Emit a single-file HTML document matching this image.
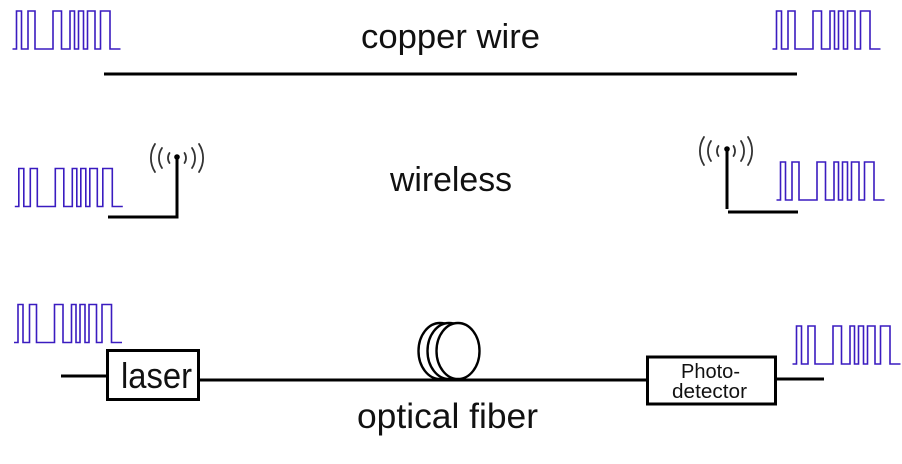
<!DOCTYPE html>
<html><head><meta charset="utf-8"><style>
html,body{margin:0;padding:0;background:#fff;width:902px;height:464px;overflow:hidden}
svg{display:block}
text{font-family:"Liberation Sans",sans-serif;fill:#111}
.w{fill:none;stroke:#3a1cc0;stroke-width:1.6}
.k{fill:none;stroke:#000;stroke-width:3}
.a{fill:none;stroke:#333;stroke-width:1.8;stroke-linecap:round}
</style></head><body>
<svg width="902" height="464" viewBox="0 0 902 464" xmlns="http://www.w3.org/2000/svg">
<defs>
<path id="wave" class="w" d="M12.5 49H16.5V11H21.5V49H28V11H35V49H53V11H61.5V49H70V11H74.5V49H78.5V11H83.5V49H87.5V11H95V49H100.5V11H110V49H120.5"/>
<g id="arcs">
<path class="a" d="M-22 -14A26 26 0 0 0 -22 14"/>
<path class="a" d="M-15 -10A18 18 0 0 0 -15 10"/>
<path class="a" d="M-7.5 -5A9 9 0 0 0 -7.5 5"/>
<path class="a" d="M22 -14A26 26 0 0 1 22 14"/>
<path class="a" d="M15 -10A18 18 0 0 1 15 10"/>
<path class="a" d="M7.5 -5A9 9 0 0 1 7.5 5"/>
</g>
</defs>
<use href="#wave"/>
<use href="#wave" x="760"/>
<use href="#wave" x="2.3" y="157.5"/>
<use href="#wave" x="764" y="151"/>
<use href="#wave" x="1.5" y="293.5"/>
<use href="#wave" x="780" y="315"/>

<line class="k" x1="104" y1="74" x2="797" y2="74"/>
<text x="361" y="48" font-size="34" textLength="179" lengthAdjust="spacingAndGlyphs">copper wire</text>

<path class="k" d="M108 217H177V157"/>
<circle cx="177" cy="157" r="2.8" fill="#000"/>
<use href="#arcs" x="177" y="158"/>
<path class="k" d="M727 149V209M728 212H798"/>
<circle cx="727" cy="149" r="2.8" fill="#000"/>
<use href="#arcs" x="726" y="151"/>
<text x="390" y="191" font-size="34" textLength="122" lengthAdjust="spacingAndGlyphs">wireless</text>

<line class="k" x1="61" y1="376" x2="107" y2="376"/>
<line class="k" x1="199" y1="380" x2="647" y2="380"/>
<line class="k" x1="777" y1="379" x2="824" y2="379"/>
<rect class="k" x="107.5" y="350.5" width="91" height="49"/>
<rect class="k" x="647.5" y="357" width="128" height="47"/>
<ellipse cx="440" cy="351" rx="21.5" ry="28" fill="#fff" stroke="#000" stroke-width="2.4"/>
<ellipse cx="449" cy="351" rx="21.5" ry="28" fill="#fff" stroke="#000" stroke-width="2.4"/>
<ellipse cx="458" cy="351" rx="21.5" ry="28" fill="#fff" stroke="#000" stroke-width="2.4"/>
<text x="121" y="388" font-size="36" textLength="71" lengthAdjust="spacingAndGlyphs">laser</text>
<text x="681" y="378" font-size="20" textLength="59" lengthAdjust="spacingAndGlyphs">Photo-</text>
<text x="672" y="398" font-size="20" textLength="75" lengthAdjust="spacingAndGlyphs">detector</text>
<text x="357" y="428" font-size="35" textLength="181" lengthAdjust="spacingAndGlyphs">optical fiber</text>
</svg>
</body></html>
